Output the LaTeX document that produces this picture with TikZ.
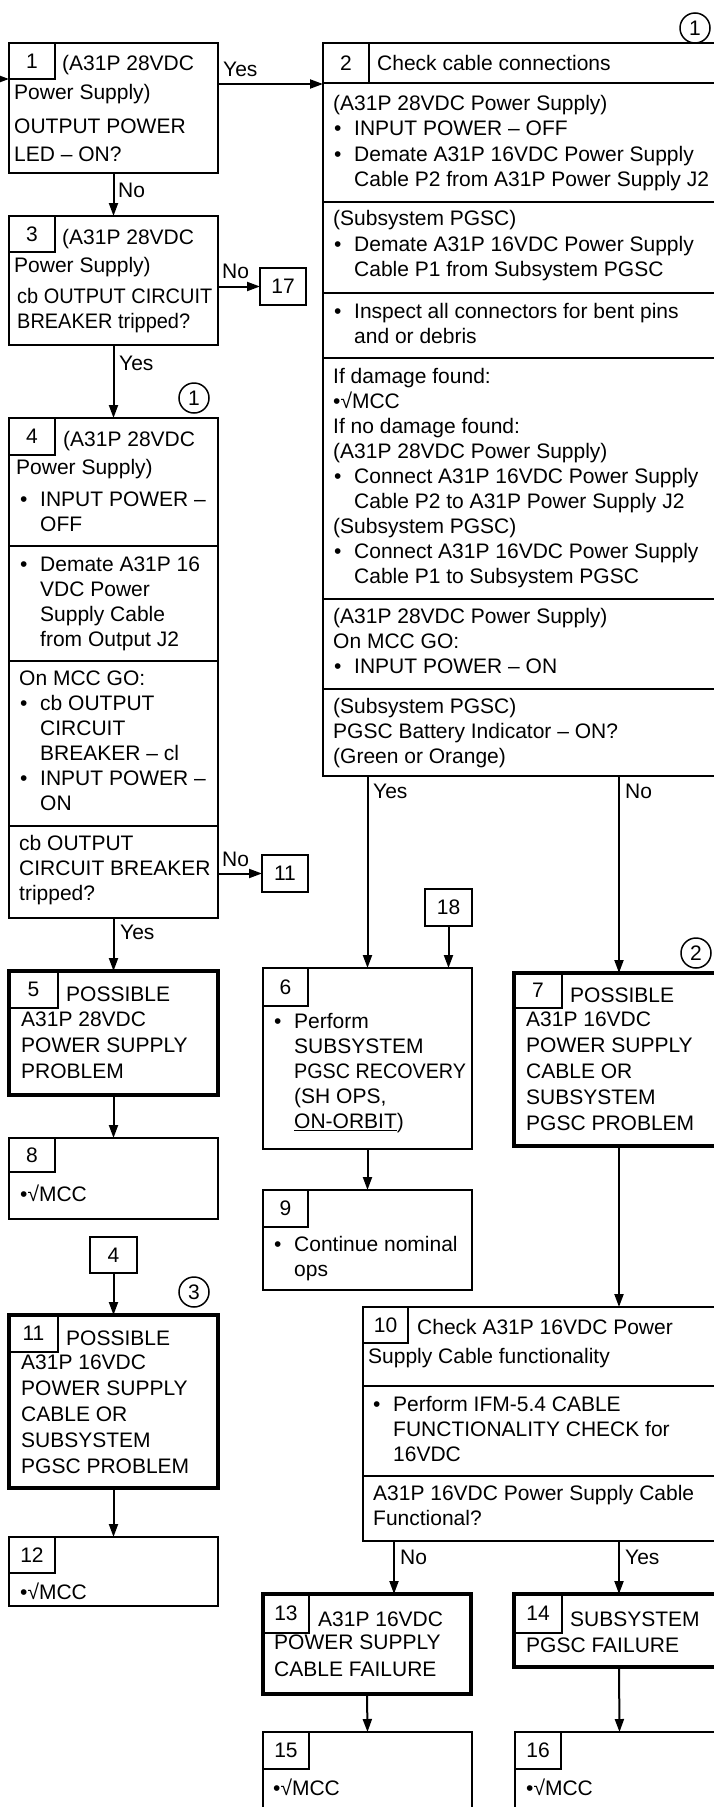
\documentclass[tikz,border=0pt]{standalone}
\usepackage{fontspec}
\setmainfont{Liberation Sans}
\usetikzlibrary{arrows.meta,calc}
\newcommand\bitem{\makebox[21pt][l]{\hspace{1pt}\textbullet}}
\newcommand\bindent{\hspace*{21pt}}
\tikzset{
  box/.style={draw, line width=2pt, inner sep=0pt, outer sep=0pt, anchor=north west},
  endbox/.style={box, line width=4.5pt},
  numtab/.style={draw, line width=2pt, inner sep=0pt, outer sep=0pt, anchor=north west,
    minimum width=46pt, minimum height=37pt},
  refbox/.style={draw, line width=2pt, inner sep=0pt, outer sep=0pt,
    minimum width=46pt, minimum height=37pt},
  circnum/.style={draw, circle, line width=1.5pt, inner sep=0pt, minimum size=30pt},
  txt/.style={inner sep=0pt, anchor=north west, align=left, execute at begin node=\strut},
  lbl/.style={inner sep=0pt, anchor=base west},
  divline/.style={line width=2pt},
  conn/.style={line width=2pt, ->},
}
\begin{document}
\begin{tikzpicture}[x=1pt, y=-1pt, font=\fontsize{21}{25}\selectfont,
    >={Triangle[length=13pt,width=9pt]}]
  \useasboundingbox (0,0) rectangle (714,1807);
  \clip (0,0) rectangle (714,1807);
  % left column
  \node[box, minimum width=209pt, minimum height=130pt] (b1) at (9,43) {};
  \node[numtab, minimum height=36pt] (t1) at (b1.north west) {1};
  \node[txt] (n1a) at (62,53) {(A31P 28VDC};
  \node[txt] (n1b) at (14,82) {Power Supply)};
  \node[txt] (n1c) at (14,119) {OUTPUT POWER\\[2.5pt]LED – ON?};

  \node[box, minimum width=209pt, minimum height=129pt] (b3) at (9,216) {};
  \node[numtab, minimum height=36pt] (t3) at (b3.north west) {3};
  \node[txt] (n3a) at (62,227) {(A31P 28VDC};
  \node[txt] (n3b) at (14,255) {Power Supply)};
  \node[txt] (n3c) at (17,288) {\scalebox{.95}[1]{cb OUTPUT CIRCUIT}\\\scalebox{.95}[1]{BREAKER tripped?}};
  \node[refbox] (r17) at (283,286.5) {17};

  \node[box, minimum width=209pt, minimum height=500pt] (b4) at (9,418) {};
  \node[numtab] (t4) at (b4.north west) {4};
  \node[txt] (n4a) at (63,429) {(A31P 28VDC};
  \node[txt] (n4b) at (16,457) {Power Supply)};
  \node[txt] (n4c) at (19,492) {\bitem INPUT POWER –\\\bindent OFF};
  \node[txt] (n4d) at (19,557) {\bitem Demate A31P 16\\\bindent VDC Power\\\bindent Supply Cable\\\bindent from Output J2};
  \node[txt] (n4e) at (19,671) {On MCC GO:\\\bitem cb OUTPUT\\\bindent CIRCUIT\\\bindent BREAKER – cl\\\bitem INPUT POWER –\\\bindent ON};
  \node[txt] (n4f) at (19,835) {cb OUTPUT\\CIRCUIT BREAKER\\tripped?};
  \draw[divline] (b4.west |- 0,546) -- (b4.east |- 0,546);
  \draw[divline] (b4.west |- 0,661) -- (b4.east |- 0,661);
  \draw[divline] (b4.west |- 0,826) -- (b4.east |- 0,826);
  \node[circnum] (c1b) at (194,398) {1};
  \node[refbox] (r11) at (285,873.5) {11};

  \node[endbox, minimum width=209pt, minimum height=124pt] (b5) at (9,971) {};
  \node[numtab, minimum width=49pt] (t5) at (b5.north west) {5};
  \node[txt] (n5a) at (66,984) {POSSIBLE};
  \node[txt] (n5b) at (21,1012) {A31P 28VDC\\[1pt]POWER SUPPLY\\[1pt]PROBLEM};

  \node[box, minimum width=209pt, minimum height=81pt] (b8) at (9,1138) {};
  \node[numtab, minimum height=34pt] (t8) at (b8.north west) {8};
  \node[txt] (n8) at (20,1184) {•√MCC};

  \node[refbox, minimum width=47pt, minimum height=36pt] (r4) at (113.5,1255) {4};
  \node[circnum] (c3) at (194,1292) {3};
  \node[endbox, minimum width=209pt, minimum height=173pt] (b11) at (9,1315) {};
  \node[numtab, minimum width=49pt] (t11) at (b11.north west) {11};
  \node[txt] (n11a) at (66,1328) {POSSIBLE};
  \node[txt] (n11b) at (21,1355) {A31P 16VDC\\[1pt]POWER SUPPLY\\[1pt]CABLE OR\\[1pt]SUBSYSTEM\\[1pt]PGSC PROBLEM};

  \node[box, minimum width=209pt, minimum height=69pt] (b12) at (9,1537) {};
  \node[numtab, minimum height=36pt] (t12) at (b12.north west) {12};
  \node[txt] (n12) at (20,1582) {•√MCC};

  % check cable connections
  \node[box, minimum width=401pt, minimum height=733pt] (b2) at (323,43) {};
  \node[numtab, minimum height=40pt] (t2) at (b2.north west) {2};
  \draw[divline] (t2.south west) -- (t2.south west -| b2.east);
  \node[txt] (n2h) at (377,53) {Check cable connections};
  \node[txt] (n2a) at (333,95) {(A31P 28VDC Power Supply)\\\bitem INPUT POWER – OFF\\[1pt]\bitem Demate A31P 16VDC Power Supply\\\bindent Cable P2 from A31P Power Supply J2};
  \node[txt] (n2b) at (333,210) {(Subsystem PGSC)\\[1pt]\bitem Demate A31P 16VDC Power Supply\\\bindent Cable P1 from Subsystem PGSC};
  \node[txt] (n2c) at (333,303) {\bitem Inspect all connectors for bent pins\\\bindent and or debris};
  \node[txt] (n2d) at (333,368) {If damage found:\\•√MCC\\If no damage found:\\(A31P 28VDC Power Supply)\\\bitem Connect A31P 16VDC Power Supply\\\bindent Cable P2 to A31P Power Supply J2\\(Subsystem PGSC)\\\bitem Connect A31P 16VDC Power Supply\\\bindent Cable P1 to Subsystem PGSC};
  \node[txt] (n2e) at (333,608) {(A31P 28VDC Power Supply)\\On MCC GO:\\\bitem INPUT POWER – ON};
  \node[txt] (n2f) at (333,698) {(Subsystem PGSC)\\PGSC Battery Indicator – ON?\\(Green or Orange)};
  \foreach \yy in {202,293,358,599,689}
    \draw[divline] (b2.west |- 0,\yy) -- (b2.east |- 0,\yy);
  \node[circnum] (c1a) at (695,28) {1};

  % middle and right column
  \node[refbox, minimum width=47pt] (r18) at (448.5,907.5) {18};
  \node[box, minimum width=209pt, minimum height=181pt] (b6) at (263,968) {};
  \node[numtab, minimum width=45pt, minimum height=38pt] (t6) at (b6.north west) {6};
  \node[txt] (n6) at (273,1013) {\bitem Perform\\\bindent SUBSYSTEM\\\bindent \scalebox{.94}[1]{PGSC RECOVERY}\\\bindent (SH OPS,\\\bindent \underline{ON-ORBIT})};

  \node[box, minimum width=209pt, minimum height=100pt] (b9) at (263,1190) {};
  \node[numtab, minimum width=45pt] (t9) at (b9.north west) {9};
  \node[txt] (n9) at (273,1236) {\bitem Continue nominal\\\bindent ops};

  \node[circnum] (c2) at (696,953) {2};
  \node[endbox, minimum width=210pt, minimum height=173pt] (b7) at (514,973) {};
  \node[numtab, minimum width=48pt, minimum height=35pt] (t7) at (b7.north west) {7};
  \node[txt] (n7a) at (570,985) {POSSIBLE};
  \node[txt] (n7b) at (526,1012) {A31P 16VDC\\[1pt]POWER SUPPLY\\[1pt]CABLE OR\\[1pt]SUBSYSTEM\\[1pt]PGSC PROBLEM};

  % cable functionality check
  \node[box, minimum width=361pt, minimum height=234pt] (b10) at (363,1307) {};
  \node[numtab, minimum width=45pt, minimum height=36pt] (t10) at (b10.north west) {10};
  \node[txt] (n10a) at (417,1317) {Check A31P 16VDC Power};
  \node[txt] (n10b) at (368,1346) {Supply Cable functionality};
  \node[txt] (n10c) at (372,1396) {\bitem Perform IFM-5.4 CABLE\\\bindent FUNCTIONALITY CHECK for\\\bindent 16VDC};
  \node[txt] (n10d) at (373,1485) {A31P 16VDC Power Supply Cable\\Functional?};
  \draw[divline] (b10.west |- 0,1386) -- (b10.east |- 0,1386);
  \draw[divline] (b10.west |- 0,1476) -- (b10.east |- 0,1476);

  \node[endbox, minimum width=208pt, minimum height=100pt] (b13) at (263,1594) {};
  \node[numtab, minimum height=39pt] (t13) at (b13.north west) {13};
  \node[txt] (n13a) at (318,1609) {A31P 16VDC};
  \node[txt] (n13b) at (274,1635) {POWER SUPPLY\\[2pt]CABLE FAILURE};

  \node[endbox, minimum width=210pt, minimum height=73pt] (b14) at (514,1594) {};
  \node[numtab, minimum width=48pt, minimum height=39pt] (t14) at (b14.north west) {14};
  \node[txt] (n14a) at (570,1609) {SUBSYSTEM};
  \node[txt] (n14b) at (526,1635) {PGSC FAILURE};

  \node[box, minimum width=209pt, minimum height=120pt] (b15) at (263,1732) {};
  \node[numtab] (t15) at (b15.north west) {15};
  \node[txt] (n15) at (273,1778) {•√MCC};
  \node[box, minimum width=209pt, minimum height=120pt] (b16) at (515,1732) {};
  \node[numtab] (t16) at (b16.north west) {16};
  \node[txt] (n16) at (526,1778) {•√MCC};

  % connectors
  \coordinate (in1) at (-3,79);
  \draw[conn] (in1) -- (in1 -| b1.west);
  \draw[conn] ($(b1.north east)+(0,41)$) coordinate (y1) -- (y1 -| b2.west);
  \draw[conn] (b1.south) -- (b3.north);
  \draw[conn] (r17.west -| b3.east) -- (r17.west);
  \draw[conn] (b3.south) -- (b4.north);
  \draw[conn] (r11.west -| b4.east) -- (r11.west);
  \draw[conn] (b4.south) -- (b5.north);
  \draw[conn] (b5.south) -- (b8.north);
  \draw[conn] (r4.south) -- (b11.north);
  \draw[conn] (b11.south) -- (b12.north);
  \draw[conn] (b6.north |- b2.south) -- (b6.north);
  \draw[conn] (b7.north |- b2.south) -- (b7.north);
  \draw[conn] (r18.south) -- (r18.south |- b6.north);
  \draw[conn] (b6.south) -- (b9.north);
  \draw[conn] (b7.south) -- (b7.south |- b10.north);
  \draw[conn] ($(b10.south west)+(31,0)$) coordinate (n10) -- (n10 |- b13.north);
  \draw[conn] (b14.north |- b10.south) -- (b14.north);
  \draw[conn] (b13.south) -- (b15.north);
  \draw[conn] (b14.south) -- (b16.north);

  % yes / no labels
  \node[lbl] (l1y) at (223,76) {Yes};
  \node[lbl] (l1n) at (118,197) {No};
  \node[lbl] (l3n) at (222,278) {No};
  \node[lbl] (l3y) at (119,370) {Yes};
  \node[lbl] (l4n) at (222,866) {No};
  \node[lbl] (l4y) at (120,939) {Yes};
  \node[lbl] (l2y) at (373,798) {Yes};
  \node[lbl] (l2n) at (625,798) {No};
  \node[lbl] (l10n) at (400,1564) {No};
  \node[lbl] (l10y) at (625,1564) {Yes};
\end{tikzpicture}
\end{document}
